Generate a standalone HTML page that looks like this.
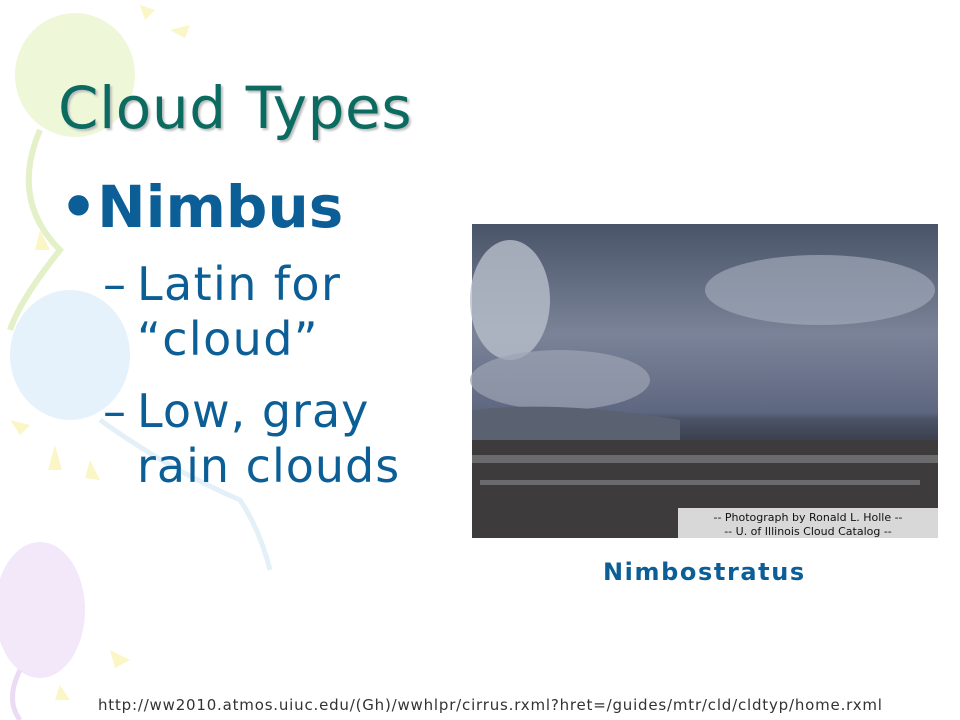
<!DOCTYPE html>
<html><head><meta charset="utf-8"><style>
body{margin:0;width:960px;height:720px;overflow:hidden;background:#fff;position:relative;font-family:"DejaVu Sans","Liberation Sans",sans-serif}
.t{position:absolute;white-space:nowrap}
</style></head><body>
<svg width="960" height="720" style="position:absolute;left:0;top:0">
<ellipse cx="75" cy="75" rx="60" ry="62" fill="#eef7d8"/>
<path d="M40 130 Q10 200 60 250 Q20 300 10 330" stroke="#e3f0c8" stroke-width="6" fill="none"/>
<ellipse cx="70" cy="355" rx="60" ry="65" fill="#e5f2fb"/>
<path d="M100 420 Q170 470 240 500 Q260 530 270 570" stroke="#e3f0f8" stroke-width="5" fill="none"/>
<ellipse cx="40" cy="610" rx="45" ry="68" fill="#f2e8fa"/>
<path d="M20 670 Q5 700 20 720" stroke="#eadcf5" stroke-width="5" fill="none"/>
<g fill="#fbf6c6">
<polygon points="140,5 155,10 145,20"/><polygon points="170,30 190,25 185,38"/>
<polygon points="40,230 50,250 35,250"/><polygon points="55,445 62,470 48,470"/>
<polygon points="10,420 30,425 20,435"/><polygon points="90,460 100,480 85,478"/>
<polygon points="110,650 130,660 115,668"/><polygon points="60,685 70,700 55,700"/>
</g>
<defs><linearGradient id="sky" x1="0" y1="0" x2="0" y2="1">
<stop offset="0" stop-color="#4a5468"/><stop offset="0.35" stop-color="#7a8398"/><stop offset="0.6" stop-color="#5e6780"/><stop offset="0.62" stop-color="#4b5468"/><stop offset="0.68" stop-color="#3c4250"/><stop offset="1" stop-color="#3a3a3c"/></linearGradient></defs>
<rect x="472" y="224" width="466" height="314" fill="url(#sky)"/>
<ellipse cx="510" cy="300" rx="40" ry="60" fill="#b8bfcc" opacity="0.8"/>
<ellipse cx="820" cy="290" rx="115" ry="35" fill="#a0a8b8" opacity="0.7"/>
<ellipse cx="560" cy="380" rx="90" ry="30" fill="#9ca4b4" opacity="0.7"/>
<path d="M472 410 Q560 400 680 420 L680 440 L472 440Z" fill="#5a6272"/>
<rect x="472" y="440" width="466" height="98" fill="#3d3b3b"/>
<rect x="472" y="455" width="466" height="8" fill="#8a8a8e" opacity="0.6"/>
<rect x="480" y="480" width="440" height="5" fill="#9a9a9e" opacity="0.5"/>
<rect x="678" y="508" width="260" height="30" fill="#d8d8d8"/>
<text x="808" y="521" font-size="11" text-anchor="middle" fill="#111" font-family="DejaVu Sans">-- Photograph by Ronald L. Holle --</text>
<text x="808" y="535" font-size="11" text-anchor="middle" fill="#111" font-family="DejaVu Sans">-- U. of Illinois Cloud Catalog --</text>
</svg>
<div class="t" style="left:58px;top:74px;font-size:58px;letter-spacing:0.6px;color:#0b6b60;text-shadow:2px 2px 2px #bbb">Cloud Types</div>
<div class="t" style="left:60px;top:173px;font-size:58px;font-weight:bold;color:#0c5f96">•Nimbus</div>
<div class="t" style="left:103px;top:257px;font-size:46px;letter-spacing:1.4px;color:#0c5f96;line-height:55px"><span style="display:inline-block;width:34px">–</span>Latin for<br><span style="display:inline-block;width:34px"></span>“cloud”</div>
<div class="t" style="left:103px;top:384px;font-size:46px;letter-spacing:1px;color:#0c5f96;line-height:55px"><span style="display:inline-block;width:34px">–</span>Low, gray<br><span style="display:inline-block;width:34px"></span>rain clouds</div>
<div class="t" style="left:603px;top:558px;font-size:24px;letter-spacing:1.6px;font-weight:bold;color:#0c5f96">Nimbostratus</div>
<div class="t" style="left:98px;top:696px;font-size:15px;letter-spacing:0.8px;color:#333">http://ww2010.atmos.uiuc.edu/(Gh)/wwhlpr/cirrus.rxml?hret=/guides/mtr/cld/cldtyp/home.rxml</div>
</body></html>
